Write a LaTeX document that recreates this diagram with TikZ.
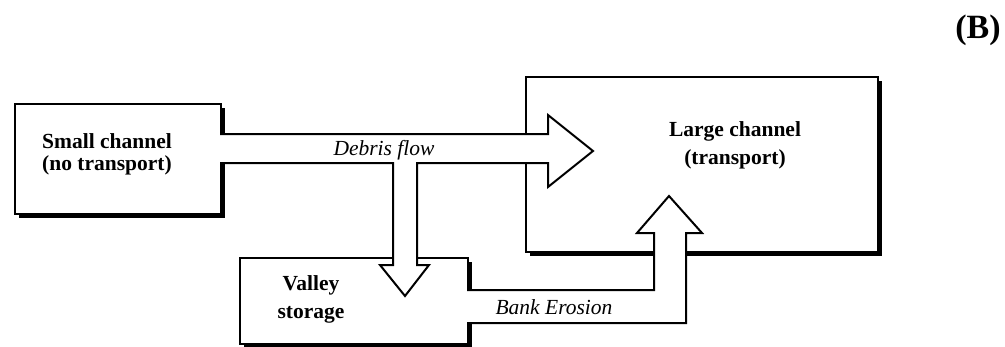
\documentclass[tikz,border=0pt]{standalone}
\usepackage{fontspec}
\setmainfont{Liberation Serif}
\usetikzlibrary{shadows}

\tikzset{
  chanbox/.style={draw, rectangle, line width=2pt, fill=white, inner sep=0pt,
    drop shadow={shadow xshift=4pt, shadow yshift=-4pt, fill=black, opacity=1}},
  blockarrow/.style={draw, line width=2pt, fill=white, line join=miter},
  boxtext/.style={font=\fontsize{21.5}{22}\selectfont\bfseries, align=center, inner sep=0pt},
  flowtext/.style={font=\fontsize{21.5}{24}\selectfont\itshape, inner sep=0pt}
}

\begin{document}
\begin{tikzpicture}[x=1pt, y=-1pt]
    \useasboundingbox (0,0) rectangle (1005,346);

    % Channel boxes
    \node[chanbox, minimum width=206pt, minimum height=110pt] (small) at (118,159) {};
    \node[chanbox, minimum width=352pt, minimum height=175pt] (large) at (702,164.5) {};
    \node[chanbox, minimum width=228pt, minimum height=86pt] (valley) at (354,301) {};

    % Debris flow, with the branch down to storage
    \coordinate (dfin) at ([xshift=-2pt]small.east);
    \draw[blockarrow] (dfin |- 0,134) -- (548,134) -- (548,115) -- (593,151)
        -- (548,187) -- (548,163) -- (417,163) -- (417,265) -- (429,265)
        -- (405,296) -- (380,265) -- (393,265) -- (393,163) -- (dfin |- 0,163);

    % Bank erosion
    \coordinate (bein) at ([xshift=-2pt]valley.east);
    \draw[blockarrow] (bein |- 0,290) -- (654,290) -- (654,233) -- (637,233)
        -- (669,196) -- (702,233) -- (686,233) -- (686,323) -- (bein |- 0,323);

    % Labels
    \node[boxtext] (smalltxt) at (107,154) {Small channel\\(no transport)};
    \node[boxtext, font=\fontsize{21.5}{28}\selectfont\bfseries] (largetxt) at (735,145) {Large channel\\(transport)};
    \node[boxtext, font=\fontsize{21.5}{28}\selectfont\bfseries] (valleytxt) at (311,299) {Valley\\storage};
    \node[flowtext] (debris) at (384,150) {Debris flow};
    \node[flowtext] (bank) at (554,307) {Bank Erosion};
    \node[font=\fontsize{34}{34}\selectfont\bfseries] (panel) at (978,30) {(B)};
\end{tikzpicture}
\end{document}
